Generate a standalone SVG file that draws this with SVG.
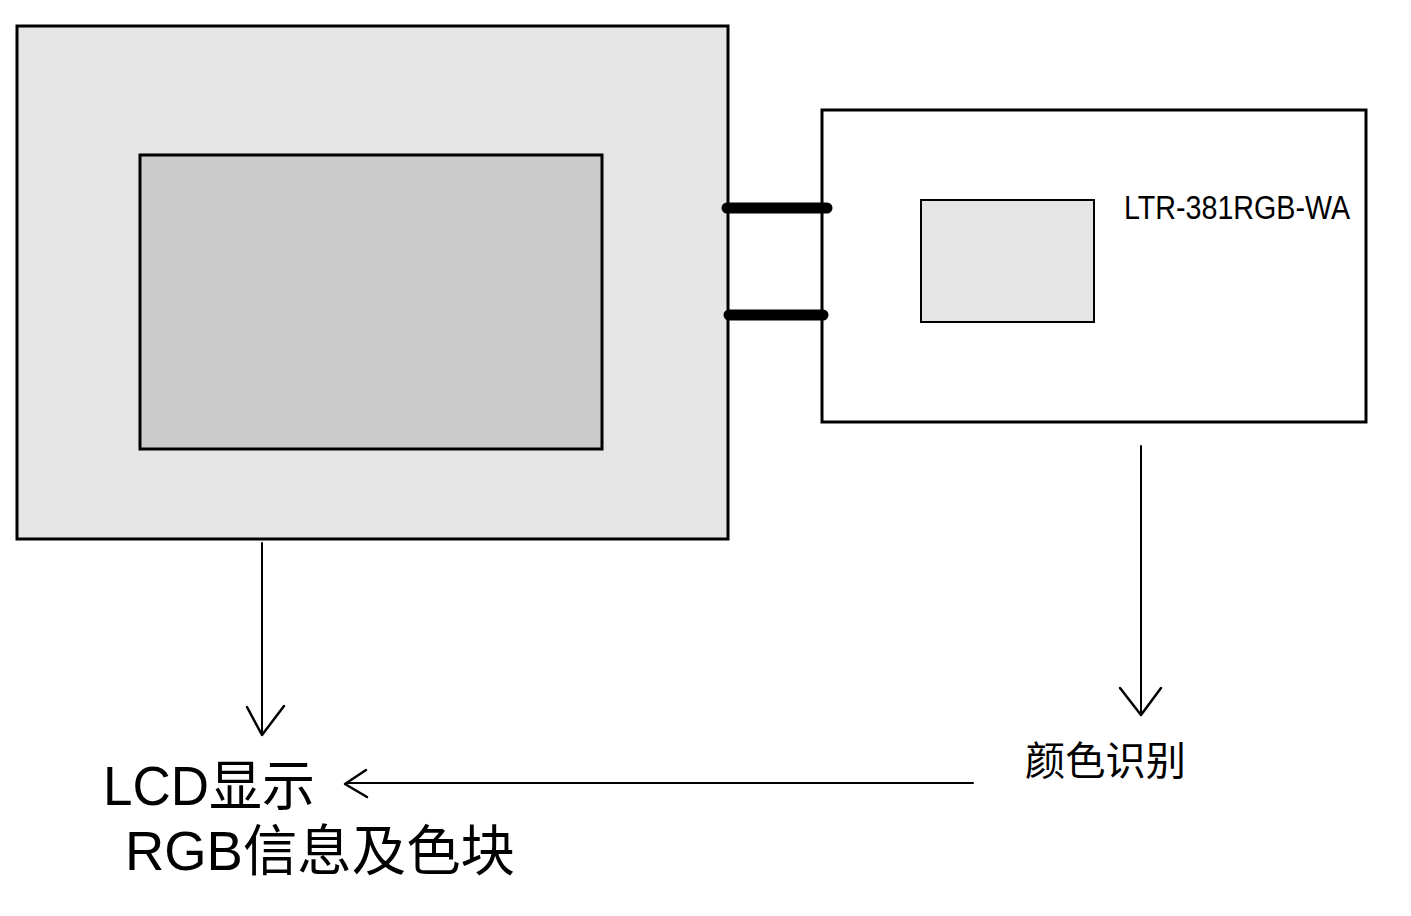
<svg xmlns="http://www.w3.org/2000/svg" width="1411" height="916" viewBox="0 0 1411 916">
<defs>
<style>
.box{stroke:#000;stroke-width:3}
.conn{stroke:#000;fill:none;stroke-linecap:round;stroke-linejoin:round}
.lbl{font-family:"Liberation Sans","Noto Sans CJK SC",sans-serif;fill:#000}
</style>
</defs>
<rect width="1411" height="916" fill="#fff"/>
<g id="lcd-module">
<rect class="box" x="17" y="26" width="711" height="513" fill="#e5e5e5"/>
</g>
<g id="lcd-screen">
<rect class="box" x="140" y="155" width="462" height="294" fill="#cccccc"/>
</g>
<g id="sensor-board">
<rect class="box" x="822" y="110" width="544" height="312" fill="#fff"/>
</g>
<g id="sensor-chip">
<rect x="921" y="200" width="173" height="122" fill="#e5e5e5" stroke="#000" stroke-width="2"/>
</g>
<g id="sensor-label">
<text class="lbl" x="1124" y="219" font-size="34" textLength="226" lengthAdjust="spacingAndGlyphs">LTR-381RGB-WA</text>
</g>
<g id="lcd-label">
<text class="lbl" x="103" y="805" font-size="55" textLength="212" lengthAdjust="spacingAndGlyphs">LCD显示</text>
<text class="lbl" x="125" y="870" font-size="55" textLength="390" lengthAdjust="spacingAndGlyphs">RGB信息及色块</text>
</g>
<g id="color-label">
<text class="lbl" x="1025" y="775" font-size="40" textLength="161" lengthAdjust="spacingAndGlyphs">颜色识别</text>
</g>
<g id="connectors">
<line class="conn" x1="727" y1="208" x2="827" y2="208" stroke-width="11"/>
<line class="conn" x1="729" y1="315" x2="823" y2="315" stroke-width="11"/>
<line class="conn" x1="262" y1="543" x2="262" y2="735" stroke-width="2"/>
<polyline class="conn" points="247,707 262,735 284,706" stroke-width="2.5"/>
<line class="conn" x1="1141" y1="446" x2="1141" y2="715" stroke-width="2"/>
<polyline class="conn" points="1120,688 1141,715 1161,688" stroke-width="2.5"/>
<line class="conn" x1="973" y1="783" x2="347" y2="783" stroke-width="2"/>
<polyline class="conn" points="366,770 345,784 367,797" stroke-width="2.5"/>
</g>
</svg>
